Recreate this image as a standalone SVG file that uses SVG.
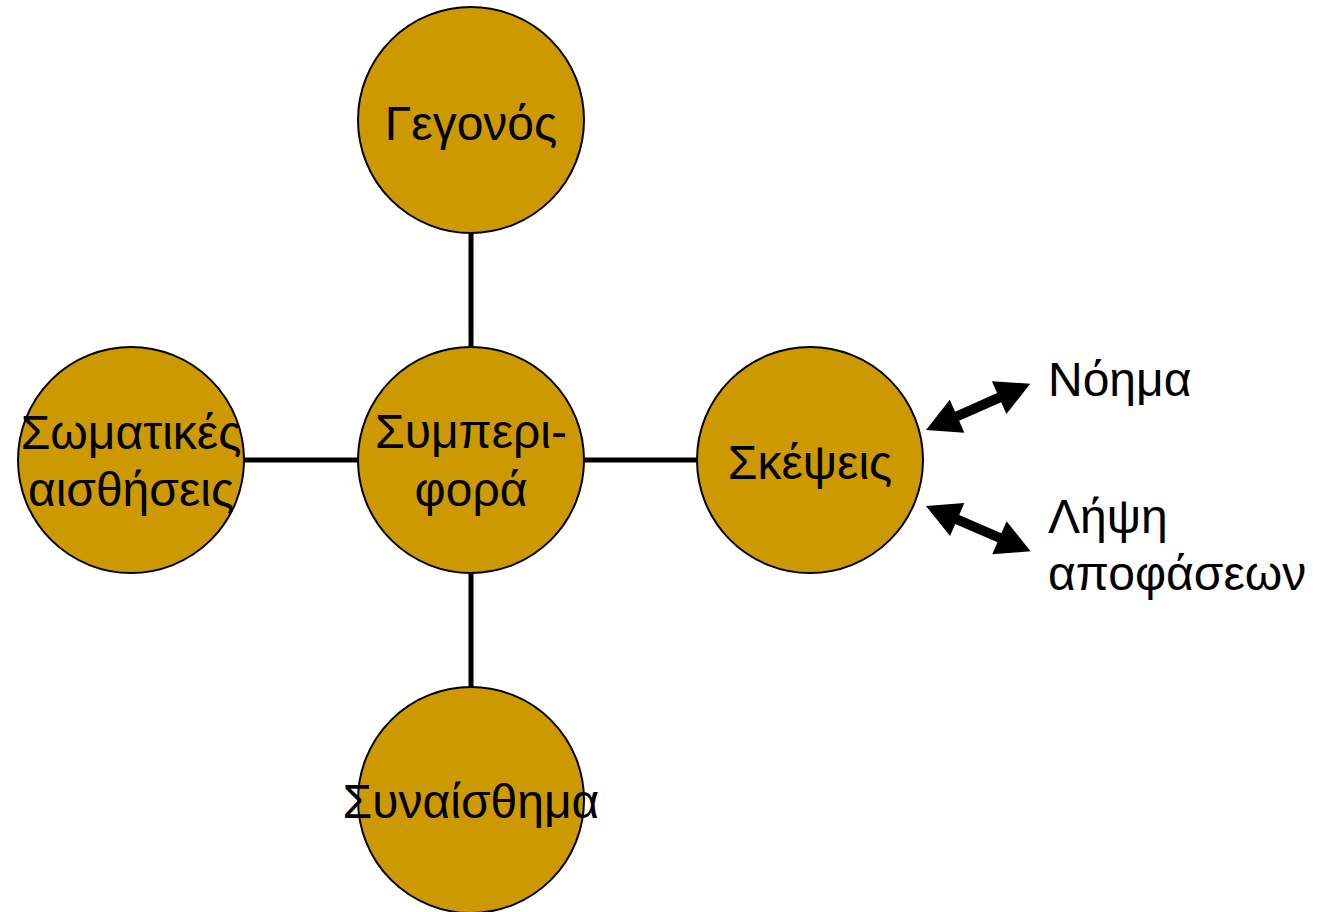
<svg xmlns="http://www.w3.org/2000/svg" width="1320" height="912" viewBox="0 0 1320 912">
<style>
.n{fill:#CC9900;stroke:#000;stroke-width:2}
.t{font-family:"Liberation Sans",Arial,sans-serif;font-size:48px;fill:#000;text-anchor:middle}
.l{font-family:"Liberation Sans",Arial,sans-serif;font-size:48px;fill:#000}
.c{stroke:#000;stroke-width:5;fill:none}
.a{fill:#000}
</style>
<defs>
<path id="dbl" d="M0,0 L34,-18 L34,-5 L80,-5 L80,-18 L114,0 L80,18 L80,5 L34,5 L34,18 Z"/>
</defs>
<rect width="1320" height="912" fill="#fff"/>
<g id="connectors">
<line class="c" x1="471" y1="232" x2="471" y2="348"/>
<line class="c" x1="471" y1="572" x2="471" y2="688"/>
<line class="c" x1="243" y1="460" x2="359" y2="460"/>
<line class="c" x1="583" y1="460" x2="698" y2="460"/>
<use href="#dbl" class="a" transform="translate(926,430) rotate(-23.9)"/>
<use href="#dbl" class="a" transform="translate(926,506) rotate(23.4)"/>
</g>
<g id="gegonos">
<circle class="n" cx="471" cy="120" r="113"/>
<text class="t" x="471" y="140">Γεγονός</text>
</g>
<g id="symperifora">
<circle class="n" cx="471" cy="460" r="113"/>
<text class="t" x="471" y="448">Συμπερι-</text>
<text class="t" x="471" y="506">φορά</text>
</g>
<g id="somatikes">
<circle class="n" cx="131" cy="460" r="113"/>
<text class="t" x="131" y="449">Σωματικές</text>
<text class="t" x="131" y="506">αισθήσεις</text>
</g>
<g id="skepseis">
<circle class="n" cx="810" cy="460" r="113"/>
<text class="t" x="810" y="479">Σκέψεις</text>
</g>
<g id="synaisthima">
<circle class="n" cx="471" cy="800" r="113"/>
<text class="t" x="471" y="818">Συναίσθημα</text>
</g>
<g id="noima">
<text class="l" x="1048" y="396">Νόημα</text>
</g>
<g id="lipsi">
<text class="l" x="1048" y="533">Λήψη</text>
<text class="l" x="1048" y="590">αποφάσεων</text>
</g>
</svg>
